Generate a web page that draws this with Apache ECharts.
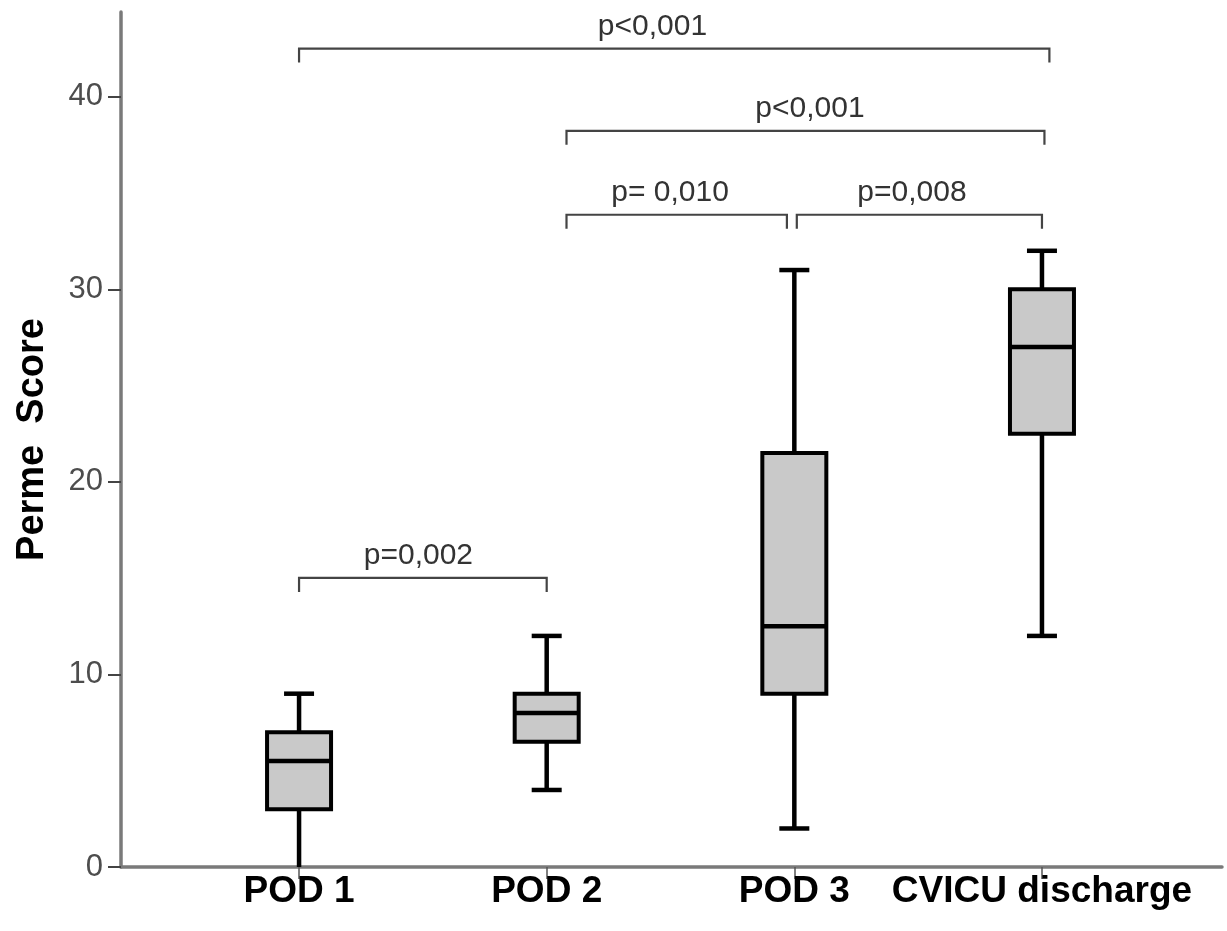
<!DOCTYPE html>
<html>
<head>
<meta charset="utf-8">
<script src="https://cdn.jsdelivr.net/npm/echarts@6/dist/echarts.min.js"></script>
<style>html,body{margin:0;padding:0;background:#fff}#c{width:1227px;height:931px}</style>
</head>
<body>
<div id="c"></div>
<script>
// ---- data ----
var categories = ['POD 1', 'POD 2', 'POD 3', 'CVICU discharge'];
var categoryPos = [1, 2, 3, 4];
var whiskerMin = [0, 4, 2, 12];
var q1 = [3, 6.5, 9, 22.5];
var median = [5.5, 8, 12.5, 27];
var q3 = [7, 9, 21.5, 30];
var whiskerMax = [9, 12, 31, 32];
var yTicks = [0, 10, 20, 30, 40];

// significance brackets (in axis units)
var bracketLabels = ['p<0,001', 'p<0,001', 'p= 0,010', 'p=0,008', 'p=0,002'];
var bracketStart = [1.0, 2.08, 2.08, 3.01, 1.0];
var bracketEnd = [4.03, 4.01, 2.97, 4.0, 2.0];
var bracketLevel = [42.5, 38.23, 33.87, 33.87, 15.01];
var bracketLabelX = [2.427, 3.063, 2.498, 3.475, 1.482];

// ---- build ----
var FONT = 'Arial, "Liberation Sans", sans-serif';
var boxData = categoryPos.map(function (x, i) {
  return [x, whiskerMin[i], q1[i], median[i], q3[i], whiskerMax[i]];
});
var bracketData = bracketLabels.map(function (t, i) {
  return [bracketStart[i], bracketEnd[i], bracketLevel[i], bracketLabelX[i], t];
});

var chart = echarts.init(document.getElementById('c'));
chart.setOption({
  animation: false,
  backgroundColor: '#ffffff',
  grid: { left: 121, right: 5, top: 12, bottom: 64, containLabel: false, outerBoundsMode: 'none' },
  xAxis: {
    type: 'value',
    min: 0.281,
    max: 4.727,
    splitLine: { show: false },
    axisLine: { show: true, lineStyle: { color: '#7a7a7a', width: 3.5 } },
    axisTick: { show: true, customValues: categoryPos, length: 12, lineStyle: { color: '#555', width: 1.5 } },
    axisLabel: {
      customValues: categoryPos,
      formatter: function (v) { return categories[Math.round(v) - 1]; },
      color: '#000', fontSize: 37, fontWeight: 'bold', fontFamily: FONT, margin: 6
    }
  },
  yAxis: {
    type: 'value',
    min: 0,
    max: 44.4,
    interval: 10,
    name: 'Perme  Score',
    nameLocation: 'middle',
    nameGap: 69,
    nameRotate: 90,
    nameTextStyle: { color: '#000', fontSize: 38, fontWeight: 'bold', fontFamily: FONT },
    splitLine: { show: false },
    axisLine: { show: true, lineStyle: { color: '#7a7a7a', width: 3.5 } },
    axisTick: { show: true, customValues: yTicks, length: 13, lineStyle: { color: '#444', width: 2 } },
    axisLabel: {
      customValues: yTicks,
      color: '#4d4d4d', fontSize: 31, fontFamily: FONT, margin: 18
    }
  },
  series: [
    {
      type: 'custom',
      data: boxData,
      encode: { x: 0, y: [1, 2, 3, 4, 5] },
      z: 3,
      renderItem: function (params, api) {
        var x = api.value(0);
        var pMin = api.coord([x, api.value(1)]);
        var pQ1 = api.coord([x, api.value(2)]);
        var pMed = api.coord([x, api.value(3)]);
        var pQ3 = api.coord([x, api.value(4)]);
        var pMax = api.coord([x, api.value(5)]);
        var cx = pMin[0];
        var bw = 64, cw = 30;
        var lineS = { stroke: '#000', lineWidth: 4.5, fill: null };
        return {
          type: 'group',
          children: [
            { type: 'line', shape: { x1: cx, y1: pMin[1], x2: cx, y2: pQ1[1] }, style: lineS },
            { type: 'line', shape: { x1: cx, y1: pQ3[1], x2: cx, y2: pMax[1] }, style: lineS },
            { type: 'line', shape: { x1: cx - cw / 2, y1: pMax[1], x2: cx + cw / 2, y2: pMax[1] }, style: lineS },
            { type: 'line', shape: { x1: cx - cw / 2, y1: pMin[1], x2: cx + cw / 2, y2: pMin[1] }, style: lineS, invisible: api.value(1) === 0 },
            { type: 'rect', shape: { x: cx - bw / 2, y: pQ3[1], width: bw, height: pQ1[1] - pQ3[1] },
              style: { fill: '#c9c9c9', stroke: '#000', lineWidth: 4 } },
            { type: 'line', shape: { x1: cx - bw / 2, y1: pMed[1], x2: cx + bw / 2, y2: pMed[1] }, style: lineS }
          ]
        };
      }
    },
    {
      type: 'custom',
      data: bracketData,
      encode: { x: [0, 1], y: 2 },
      z: 4,
      renderItem: function (params, api) {
        var a = api.coord([api.value(0), api.value(2)]);
        var b = api.coord([api.value(1), api.value(2)]);
        var t = api.coord([api.value(3), api.value(2)]);
        var tip = 14;
        return {
          type: 'group',
          children: [
            { type: 'polyline', shape: { points: [[a[0], a[1] + tip], [a[0], a[1]], [b[0], b[1]], [b[0], b[1] + tip]] },
              style: { stroke: '#444', lineWidth: 2.2, fill: null } },
            { type: 'text', x: t[0], y: a[1] - 22,
              style: { text: bracketLabels[params.dataIndex], fill: '#333', fontSize: 30, fontFamily: FONT,
                       align: 'center', verticalAlign: 'middle' } }
          ]
        };
      }
    }
  ]
});
</script>
</body>
</html>
